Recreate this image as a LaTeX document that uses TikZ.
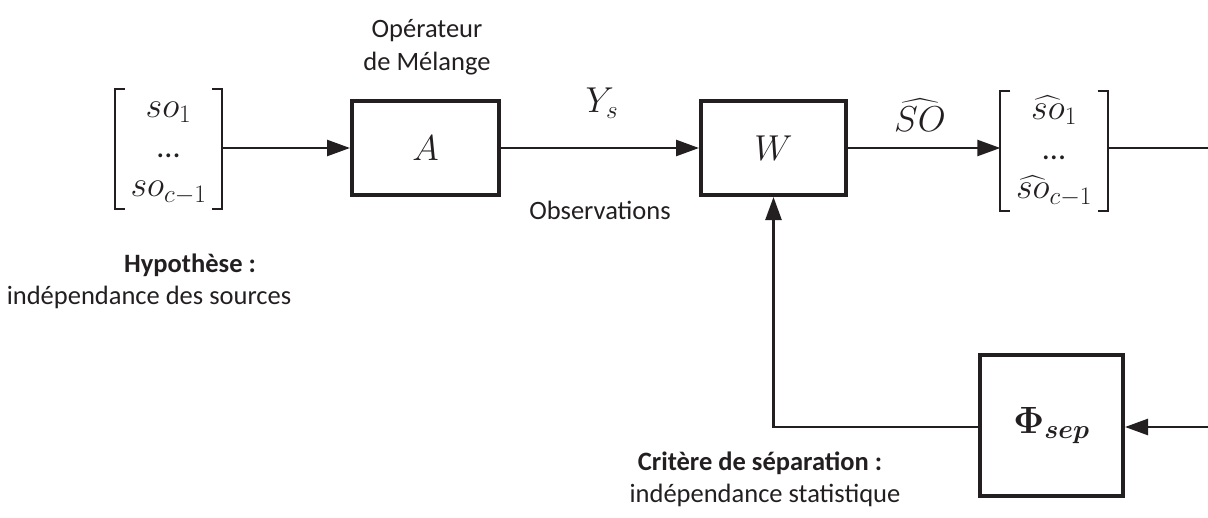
\RequirePackage{fix-cm}
\documentclass[tikz,border=0pt]{standalone}
\usepackage{amsmath,bm}
\usepackage{fontspec}
\setmainfont{Carlito}
\usetikzlibrary{arrows.meta}
\definecolor{ink}{RGB}{35,31,32}
\newcommand{\mydots}{\text{\fontsize{32}{38}\selectfont ...}}
\tikzset{
  blk/.style={draw=ink, line width=4pt, inner sep=0pt, text=ink, font=\fontsize{36}{43}\selectfont},
  arr/.style={draw=ink, line width=2.5pt, -{Triangle[length=23pt,width=16pt]}},
  ln/.style={draw=ink, line width=2.5pt},
  brk/.style={draw=ink, line width=2pt},
  txt/.style={text=ink, inner sep=0pt, font=\fontsize{26.5}{33}\selectfont},
  mth/.style={text=ink, inner sep=0pt, font=\fontsize{36}{43}\selectfont},
  mat/.style={text=ink, inner sep=0pt, minimum width=107pt, minimum height=110pt, font=\fontsize{36}{43}\selectfont},
}
\begin{document}
\begin{tikzpicture}[x=1pt,y=-1pt]
\path[use as bounding box] (0,0) rectangle (1208,517);

% blocks
\node[blk, minimum width=147pt, minimum height=94pt] (A) at (425.5,148) {$A$};
\node[blk, minimum width=145pt, minimum height=94pt] (W) at (773.5,148) {$W$};
\node[blk, minimum width=143pt, minimum height=141pt, font=\fontsize{38}{46}\selectfont] (Phi) at (1051.5,425.5) {$\boldsymbol{\Phi}_{\boldsymbol{sep}}$};

% matrices
\node[mat] (mL) at (168.5,149) {\renewcommand{\arraystretch}{0.93}$\begin{array}{c} so_1\\ \mydots\\ so_{c-1}\end{array}$};
\node[mat] (mR) at (1054,151) {\renewcommand{\arraystretch}{0.93}$\begin{array}{c} \widehat{so}_1\\ \mydots\\ \widehat{so}_{c-1}\end{array}$};
\draw[brk] ([xshift=10pt]mL.north west) -- (mL.north west) -- (mL.south west) -- ([xshift=10pt]mL.south west);
\draw[brk] ([xshift=-10pt]mL.north east) -- (mL.north east) -- (mL.south east) -- ([xshift=-10pt]mL.south east);
\draw[brk] ([xshift=10pt]mR.north west) -- (mR.north west) -- (mR.south west) -- ([xshift=10pt]mR.south west);
\draw[brk] ([xshift=-10pt]mR.north east) -- (mR.north east) -- (mR.south east) -- ([xshift=-10pt]mR.south east);

% free ends at the right edge
\coordinate (eTop) at (1208,148);
\coordinate (eBot) at (1208,427);

% connectors
\draw[arr] (mL.east |- A.west) -- (A.west);
\draw[arr] (A.east) -- (W.west);
\draw[arr] (W.east) -- (mR.west |- W.east);
\draw[ln] (mR.east |- W.east) -- (eTop);
\draw[arr] (eBot) -- (Phi.east |- eBot);
\draw[arr] (Phi.west |- eBot) -| (W.south);

% labels
\node[txt, align=center] (op) at (427,47) {Opérateur\\de Mélange};
\node[mth] (ys) at (602,103) {$Y_s$};
\node[mth] (so) at (920,115) {$\widehat{SO}$};
\node[txt] (obs) at (600,210) {Observations};
\node[txt] (hyp) at (190,265) {\textbf{Hypothèse :}};
\node[txt] (hyp2) at (149,297) {indépendance des sources};
\node[txt] (crit) at (760,463) {\textbf{Critère de séparation :}};
\node[txt] (crit2) at (765,495) {indépendance statistique};
\end{tikzpicture}
\end{document}
